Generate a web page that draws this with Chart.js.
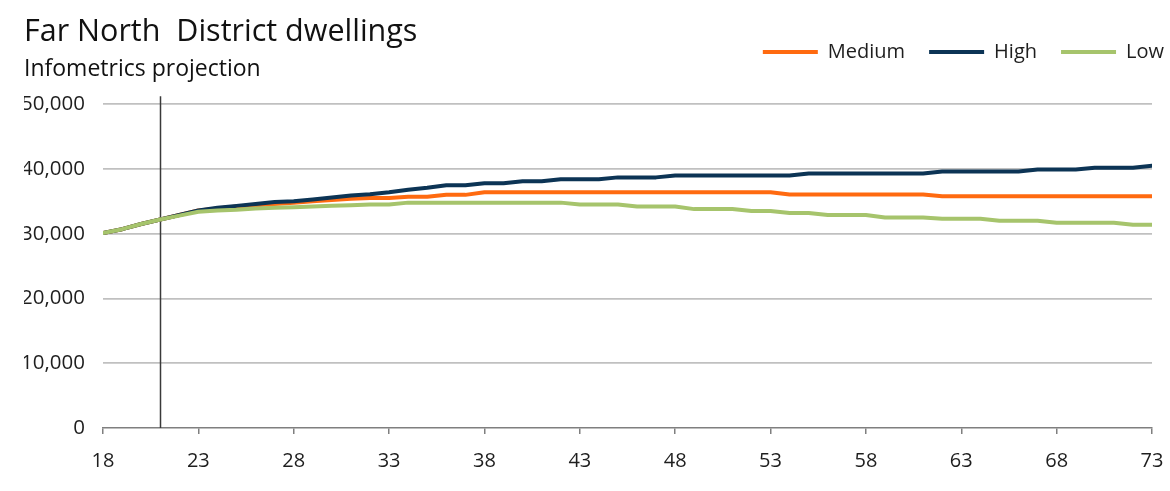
<!DOCTYPE html>
<html>
<head>
<meta charset="utf-8">
<title>Far North District dwellings</title>
<script src="https://cdn.jsdelivr.net/npm/chart.js@4.4.1/dist/chart.umd.min.js"></script>
<style>
  html, body { margin: 0; padding: 0; background: #ffffff; overflow: hidden; }
  #wrap { position: relative; width: 1170px; height: 491px; }
</style>
</head>
<body>
<div id="wrap"><canvas id="chart" width="1170" height="491"></canvas></div>
<script>
// Projection years (two-digit, 2018-2073)
const years = [18, 19, 20, 21, 22, 23, 24, 25, 26, 27, 28, 29, 30, 31, 32, 33, 34, 35, 36, 37,
               38, 39, 40, 41, 42, 43, 44, 45, 46, 47, 48, 49, 50, 51, 52, 53, 54, 55, 56, 57,
               58, 59, 60, 61, 62, 63, 64, 65, 66, 67, 68, 69, 70, 71, 72, 73];

// Dwellings, medium scenario
const medium = [30100, 30700, 31500, 32200, 32900, 33600, 33900, 34200, 34400, 34600,
                34800, 35000, 35200, 35400, 35500, 35500, 35700, 35700, 36000, 36000,
                36400, 36400, 36400, 36400, 36400, 36400, 36400, 36400, 36400, 36400,
                36400, 36400, 36400, 36400, 36400, 36400, 36050, 36050, 36050, 36050,
                36050, 36050, 36050, 36050, 35800, 35800, 35800, 35800, 35800, 35800,
                35800, 35800, 35800, 35800, 35800, 35800];

// Dwellings, high scenario
const high = [30100, 30700, 31500, 32200, 32900, 33600, 34000, 34300, 34600, 34900,
              35000, 35300, 35600, 35900, 36100, 36400, 36800, 37100, 37500, 37500,
              37800, 37800, 38100, 38100, 38400, 38400, 38400, 38700, 38700, 38700,
              39000, 39000, 39000, 39000, 39000, 39000, 39000, 39300, 39300, 39300,
              39300, 39300, 39300, 39300, 39600, 39600, 39600, 39600, 39600, 39900,
              39900, 39900, 40200, 40200, 40200, 40500];

// Dwellings, low scenario
const low = [30100, 30700, 31500, 32200, 32800, 33400, 33600, 33700, 33900, 34000,
             34100, 34200, 34300, 34400, 34500, 34500, 34800, 34800, 34800, 34800,
             34800, 34800, 34800, 34800, 34800, 34500, 34500, 34500, 34200, 34200,
             34200, 33800, 33800, 33800, 33500, 33500, 33200, 33200, 32900, 32900,
             32900, 32500, 32500, 32500, 32300, 32300, 32300, 32000, 32000, 32000,
             31700, 31700, 31700, 31700, 31400, 31400];

// Axis ticks
const xTickStep = 5;
const yTickStep = 10000;
const yMax = 50000;

// Base year marker
const baseYear = 21;

const FONT = "'Open Sans', 'Noto Sans', 'Liberation Sans', sans-serif";
const TEXT = '#1e1e1e';
const LINE_W = 4;

function toPoints(values) {
  return values.map((v, i) => ({ x: years[i], y: v }));
}

// Vertical rule at the base year, drawn behind the series
const baseYearLine = {
  id: 'baseYearLine',
  beforeDatasetsDraw(chart, args, opts) {
    const { ctx, chartArea, scales } = chart;
    const x = Math.round(scales.x.getPixelForValue(opts.value)) + 0.5;
    ctx.save();
    ctx.strokeStyle = opts.color;
    ctx.lineWidth = opts.width;
    ctx.beginPath();
    ctx.moveTo(x, chartArea.top - opts.overshoot);
    ctx.lineTo(x, chartArea.bottom);
    ctx.stroke();
    ctx.restore();
  }
};

// Puts the legend on the title row, right-aligned
const legendRow = {
  id: 'legendRow',
  afterLayout(chart, args, opts) {
    const lg = chart.legend;
    if (!lg) return;
    lg.top = opts.top;
    lg.bottom = opts.top + opts.height;
    lg.height = opts.height;
    lg.left += opts.dx;
    lg.right += opts.dx;
  }
};

function series(label, values, color, order) {
  return {
    label,
    data: toPoints(values),
    borderColor: color,
    backgroundColor: color,
    borderWidth: LINE_W,
    order
  };
}

new Chart(document.getElementById('chart'), {
  type: 'line',
  data: {
    datasets: [
      series('Medium', medium, '#FF6A10', 2),
      series('High', high, '#0C3455', 1),
      series('Low', low, '#A6C46C', 0)
    ]
  },
  options: {
    responsive: false,
    animation: false,
    locale: 'en-US',
    devicePixelRatio: 1,
    layout: { padding: { left: 24, right: 18, top: 0, bottom: 0 } },
    elements: {
      line: { tension: 0, borderCapStyle: 'round', borderJoinStyle: 'round' },
      point: { radius: 0, hoverRadius: 0 }
    },
    scales: {
      x: {
        type: 'linear',
        min: years[0],
        max: years[years.length - 1],
        afterFit(scale) {
          scale.height = 63;
          scale.paddingLeft = 0;
          scale.paddingRight = 0;
        },
        ticks: {
          stepSize: xTickStep,
          autoSkip: false,
          maxRotation: 0,
          padding: 15,
          color: TEXT,
          font: { family: FONT, size: 20 },
          callback: (v) => String(v)
        },
        grid: {
          drawOnChartArea: false,
          drawTicks: true,
          tickLength: 6,
          color: '#7f7f7f',
          lineWidth: 1.5
        },
        border: { display: true, color: '#7f7f7f', width: 1.5 }
      },
      y: {
        min: 0,
        max: yMax,
        afterFit(scale) { scale.width = 79; },
        ticks: {
          stepSize: yTickStep,
          padding: 18,
          color: TEXT,
          font: { family: FONT, size: 20.5 }
        },
        grid: {
          drawTicks: false,
          color: (c) => (c.tick && c.tick.value === 0 ? 'rgba(0,0,0,0)' : '#c0c0c0'),
          lineWidth: 1.8
        },
        border: { display: false }
      }
    },
    plugins: {
      title: {
        display: true,
        text: 'Far North  District dwellings',
        align: 'start',
        color: '#111111',
        font: { family: FONT, size: 30.5, weight: 'normal' },
        padding: { top: 14, bottom: 0 }
      },
      subtitle: {
        display: true,
        text: 'Infometrics projection',
        align: 'start',
        color: '#111111',
        font: { family: FONT, size: 23, weight: 'normal' },
        padding: { top: 5, bottom: 20 }
      },
      legend: {
        display: true,
        position: 'top',
        align: 'end',
        maxHeight: 1,
        labels: {
          usePointStyle: true,
          pointStyle: 'line',
          pointStyleWidth: 55,
          padding: 24,
          color: TEXT,
          font: { family: FONT, size: 20 },
          sort: (a, b) => a.datasetIndex - b.datasetIndex
        }
      },
      legendRow: { top: 18, height: 60, dx: 36 },
      baseYearLine: { value: baseYear, color: '#3a3a3a', width: 1.5, overshoot: 8 },
      tooltip: { enabled: false }
    }
  },
  plugins: [baseYearLine, legendRow]
});
</script>
</body>
</html>
